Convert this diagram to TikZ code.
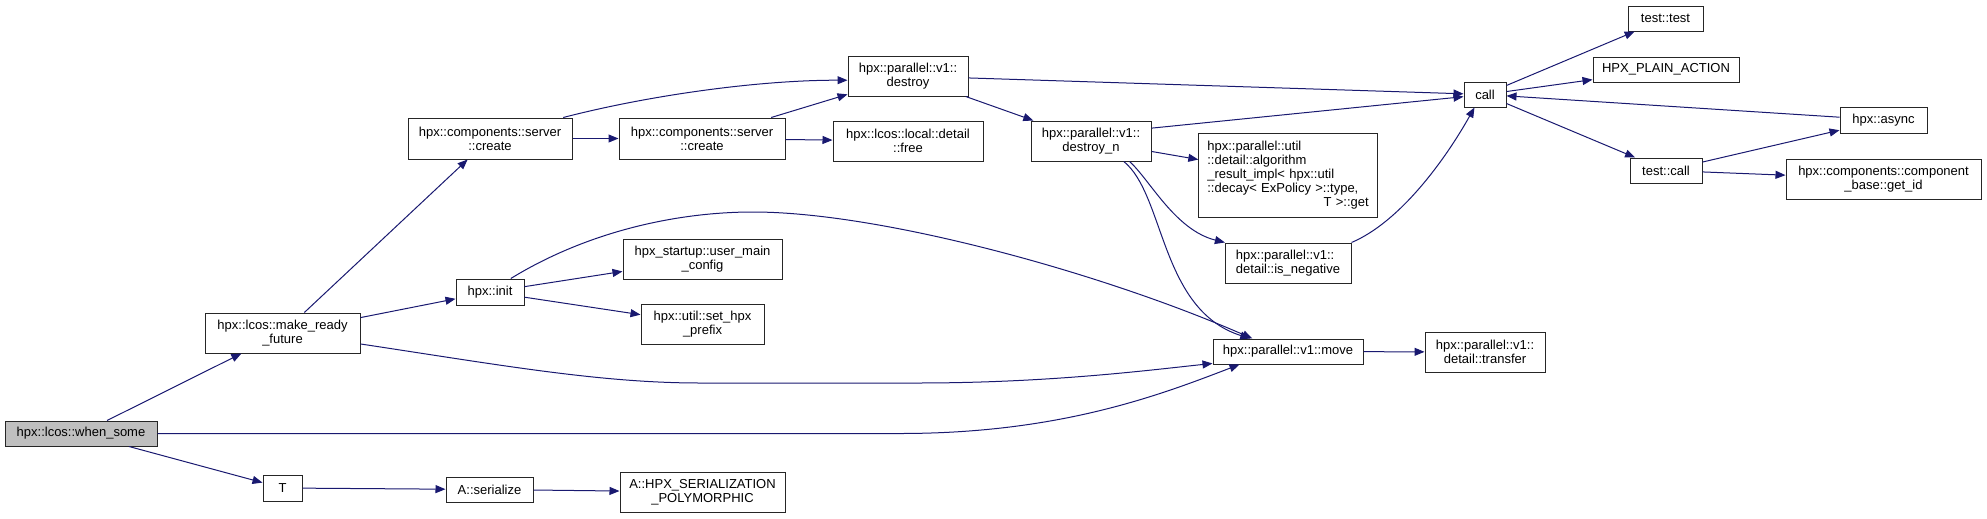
\documentclass[tikz,border=0pt]{standalone}
\usepackage{fontspec}
\setmainfont{Liberation Sans}
\usepackage{xcolor}
\usetikzlibrary{arrows.meta}

\definecolor{edgeblue}{HTML}{191970}
\newcommand{\dgfont}{\fontsize{9.75}{10.5}\selectfont}

\begin{document}
\begin{tikzpicture}[
  x=0.75pt, y=-0.75pt,
  fn/.style={draw=black!85, line width=0.75pt, fill=white, inner sep=2pt, align=center, font=\dgfont},
  wh/.style 2 args={minimum width=#1*0.75pt, minimum height=#2*0.75pt},
  root/.style={fn, fill=black!25},
  link/.style={-{Triangle[length=7.5pt, width=6pt]}, draw=edgeblue, line width=0.75pt},
]
  \useasboundingbox (0,0) rectangle (1987,518);

  % left part
  \node[root, wh={152}{25}] (ws) at (81,433.5) {hpx::lcos::when\_some};
  \node[fn, wh={155}{40}] (mrf) at (282.5,333) {hpx::lcos::make\_ready\\\_future};
  \node[fn, wh={39}{26}] (T) at (282.5,488) {T};
  \node[fn, wh={164}{41}] (csc1) at (490,138.5) {hpx::components::server\\::create};
  \node[fn, wh={68}{26}] (init) at (490,292) {hpx::init};
  \node[fn, wh={87}{25}] (aser) at (489.5,489.5) {A::serialize};

  % middle part
  \node[fn, wh={166}{41}] (csc2) at (702,138.5) {hpx::components::server\\::create};
  \node[fn, wh={159}{40}] (umc) at (702.5,259) {hpx\_startup::user\_main\\\_config};
  \node[fn, wh={123}{40}] (prefix) at (702.5,324) {hpx::util::set\_hpx\\\_prefix};
  \node[fn, wh={165}{40}] (hser) at (702.5,492) {A::HPX\_SERIALIZATION\\\_POLYMORPHIC};
  \node[fn, wh={120}{40}] (destroy) at (908,76) {hpx::parallel::v1::\\destroy};
  \node[fn, wh={150}{40}] (free) at (908,141) {hpx::lcos::local::detail\\::free};
  \node[fn, wh={120}{40}] (destroyn) at (1091,141) {hpx::parallel::v1::\\destroy\_n};
  \node[fn, wh={178}{84}, text width=121pt, inner xsep=6.4pt, align=left] (algo) at (1288,175)
    {hpx::parallel::util\\::detail::algorithm\\\_result\_impl< hpx::util\\::decay< ExPolicy >::type,\\\hspace*{\fill}T >::get\hspace*{\fill}};
  \node[fn, wh={126}{40}, align=left] (isneg) at (1288,263) {hpx::parallel::v1::\\detail::is\_negative};
  \node[fn, wh={150}{25}] (move) at (1288,351.5) {hpx::parallel::v1::move};
  \node[fn, wh={120}{40}] (transfer) at (1485,352) {hpx::parallel::v1::\\detail::transfer};

  % right part
  \node[fn, wh={42}{25}] (call) at (1485,94.5) {call};
  \node[fn, wh={75}{25}] (ttest) at (1665.5,18.5) {test::test};
  \node[fn, wh={146}{25}] (plain) at (1666,69.5) {HPX\_PLAIN\_ACTION};
  \node[fn, wh={72}{25}] (tcall) at (1666,170.5) {test::call};
  \node[fn, wh={87}{26}] (async) at (1883.5,120) {hpx::async};
  \node[fn, wh={195}{40}] (getid) at (1883.5,179) {hpx::components::component\\\_base::get\_id};

  % calls
  \draw[link] (ws) -- (mrf);
  \draw[link] (ws.east) -- (900,433.5) .. controls (1060,433.5) and (1160,395) .. (move.195);
  \draw[link] (ws) -- (T);
  \draw[link] (mrf) -- (csc1);
  \draw[link] (mrf) -- (init);
  \draw[link] (mrf.-8) .. controls (500,365) and (600,383) .. (700,383) -- (917,383)
    .. controls (1050,383) and (1150,370) .. (move.189);
  \draw[link] (csc1.16) .. controls (650,95) and (760,80) .. (destroy.184);
  \draw[link] (csc1) -- (csc2);
  \draw[link] (csc2) -- (destroy);
  \draw[link] (csc2) -- (free);
  \draw[link] (destroy) -- (call);
  \draw[link] (destroy) -- (destroyn);
  \draw[link] (destroyn.12) -- (call);
  \draw[link] (destroyn) -- (algo);
  \draw[link] (destroyn.-28) .. controls (1150,180) and (1175,230) .. (isneg.162);
  \draw[link] (destroyn.-32) .. controls (1165,195) and (1160,310) .. (move.161);
  \draw[link] (isneg.north east) .. controls (1400,222) and (1445,160) .. (call.231);
  \draw[link] (init.33) .. controls (590,230) and (680,212) .. (753,212)
    .. controls (880,212) and (1100,272) .. (move.160);
  \draw[link] (init) -- (umc);
  \draw[link] (init) -- (prefix);
  \draw[link] (T) -- (aser);
  \draw[link] (aser) -- (hser);
  \draw[link] (move) -- (transfer);
  \draw[link] (call) -- (ttest);
  \draw[link] (call) -- (plain);
  \draw[link] (call) -- (tcall);
  \draw[link] (tcall) -- (async);
  \draw[link] (tcall) -- (getid);
  \draw[link] (async) -- (call);
\end{tikzpicture}
\end{document}
